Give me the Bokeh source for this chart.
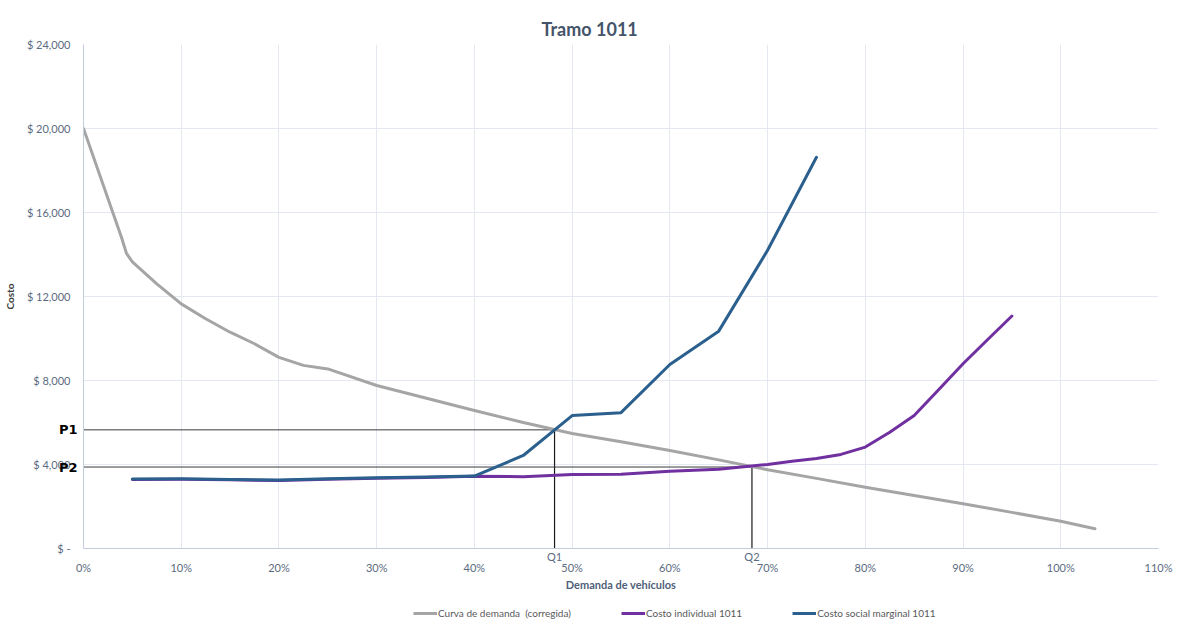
from bokeh.plotting import figure
from bokeh.layouts import column
from bokeh.models import (Range1d, FixedTicker, PrintfTickFormatter, Legend, LegendItem,
                          Label, Title)
from bokeh.embed import file_html
from bokeh.resources import INLINE

# Demand curve (corrected): share of vehicles (%) vs cost
demanda_x = [0, 3.9, 4.4, 5, 7.5, 10, 12.5, 15, 17.5, 20, 22.5, 25, 30, 35, 40, 45, 50,
             55, 60, 65, 70, 75, 80, 85, 90, 95, 100, 103.5]
demanda_y = [20000, 14800, 14050, 13650, 12600, 11650, 10940, 10300, 9750, 9100, 8720,
             8550, 7760, 7170, 6570, 6000, 5480, 5080, 4670, 4220, 3750, 3340, 2920,
             2520, 2130, 1720, 1300, 940]

# Individual cost, segment 1011
individual_x = [5, 10, 15, 20, 25, 30, 35, 40, 45, 50, 55, 60, 65, 70, 72.5, 75, 77.5,
                80, 82.5, 85, 87.5, 90, 92.5, 95]
individual_y = [3290, 3300, 3270, 3240, 3300, 3350, 3380, 3440, 3420, 3520, 3540, 3680,
                3770, 4000, 4150, 4290, 4480, 4830, 5540, 6330, 7560, 8800, 9940, 11070]

# Marginal social cost, segment 1011
social_x = [5, 10, 15, 20, 25, 30, 35, 40, 45, 50, 55, 60, 65, 70, 75]
social_y = [3310, 3320, 3290, 3260, 3320, 3370, 3400, 3450, 4430, 6330, 6470, 8760,
            10350, 14200, 18630]

series_names = ["Curva de demanda  (corregida)", "Costo individual 1011",
                "Costo social marginal 1011"]
series_colors = ["#A5A5A5", "#7030A0", "#2B5F8E"]

# Equilibrium points (quantity %, price)
eq_names_q = ["Q1", "Q2"]
eq_names_p = ["P1", "P2"]
eq_q = [48.2, 68.4]
eq_p = [5650, 3880]

y_ticks = [0, 4000, 8000, 12000, 16000, 20000, 24000]
y_tick_labels = ["$ -", "$ 4,000", "$ 8,000", "$ 12,000", "$ 16,000", "$ 20,000", "$ 24,000"]
x_ticks = list(range(0, 111, 10))

FONT = "Lato"
LBL_FONT = "DejaVu Sans"
TICK_COLOR = "#5B6B82"

p = figure(frame_width=1075, frame_height=504, output_backend="svg",
           toolbar_location=None, x_range=Range1d(0, 110), y_range=Range1d(0, 24000),
           min_border_left=82, min_border_right=23, min_border_top=44,
           min_border_bottom=53)
p.outline_line_color = None
p.background_fill_color = "white"
p.border_fill_color = "white"

p.title = Title(text="Tramo 1011", align="left", offset=458,
                text_font=FONT, text_font_size="18px", text_font_style="bold",
                text_color="#44546A")

# Axes; the equilibrium quantities are marked on the category axis, one row
# above the percentage labels
p.xaxis.ticker = FixedTicker(ticks=x_ticks + eq_q)
p.xaxis.formatter = PrintfTickFormatter(format="%d%%")
x_overrides = {t: "\n%d%%" % t for t in x_ticks}
x_overrides.update({v: n for v, n in zip(eq_q, eq_names_q)})
p.xaxis.major_label_overrides = x_overrides
p.yaxis.ticker = FixedTicker(ticks=y_ticks)
p.yaxis.major_label_overrides = {t: lab for t, lab in zip(y_ticks, y_tick_labels)}
for ax in (p.xaxis[0], p.yaxis[0]):
    ax.axis_line_color = "#C3CCDC"
    ax.major_tick_line_color = None
    ax.minor_tick_line_color = None
    ax.major_tick_in = 0
    ax.major_tick_out = 0
    ax.minor_tick_in = 0
    ax.minor_tick_out = 0
    ax.major_label_text_font = FONT
    ax.major_label_text_font_size = "11px"
    ax.major_label_text_color = TICK_COLOR
    ax.axis_label_text_font = FONT
    ax.axis_label_text_font_style = "bold"
p.xaxis.major_label_standoff = 1
p.xaxis.major_label_text_line_height = 0.9
p.yaxis.major_label_standoff = 13
p.xaxis.axis_label = "Demanda de vehículos"
p.xaxis.axis_label_text_font_size = "11px"
p.xaxis.axis_label_text_color = "#4E5F7A"
p.xaxis.axis_label_standoff = 1
p.yaxis.axis_label = "Costo"
p.yaxis.axis_label_text_font_size = "10px"
p.yaxis.axis_label_text_color = "#404040"
p.yaxis.axis_label_standoff = 8

p.xgrid.ticker = FixedTicker(ticks=x_ticks)
p.xgrid.grid_line_color = "#E4E8F0"
p.ygrid.grid_line_color = "#E4E8F0"

# Equilibrium guide lines
for q, pr in zip(eq_q, eq_p):
    p.line([0, q], [pr, pr], line_color="#3A3A3A", line_width=1)
    p.line([q, q], [0, pr], line_color="#1A1A1A", line_width=1.2)

# Series
series = [(demanda_x, demanda_y), (individual_x, individual_y), (social_x, social_y)]
for (xs, ys), color in zip(series, series_colors):
    p.line(xs, ys, line_color=color, line_width=3, line_join="round", line_cap="round")

# P1 / P2 marks beside the value axis (kept in a side panel so they are not clipped)
p.add_layout(Label(x=0, y=sum(eq_p) / len(eq_p), text="\n".join(eq_names_p),
                   x_offset=-6, text_align="right", text_baseline="middle",
                   text_line_height=2.5, text_font=LBL_FONT, text_font_style="bold",
                   text_font_size="13px", text_color="black"), "right")

# Legend strip under the chart
leg = figure(width=1180, height=24, output_backend="svg", toolbar_location=None,
             x_range=Range1d(-20, -10), y_range=Range1d(-20, -10),
             x_axis_location=None, y_axis_location=None, min_border=0)
leg.outline_line_color = None
leg.grid.visible = False
items = []
for (xs, ys), color, name in zip(series, series_colors, series_names):
    r = leg.line(xs, ys, line_color=color, line_width=3)
    items.append(LegendItem(label=name, renderers=[r]))
legend = Legend(items=items, orientation="horizontal", location=(330, 5),
                label_text_font=FONT, label_text_font_size="10px",
                label_text_color="#595959", glyph_width=24, glyph_height=10,
                label_height=14, label_standoff=1, spacing=50, padding=0, margin=0,
                border_line_color=None, background_fill_alpha=0)
leg.add_layout(legend, "center")

open("out.html", "w").write(file_html(column(p, leg, spacing=0), INLINE))
